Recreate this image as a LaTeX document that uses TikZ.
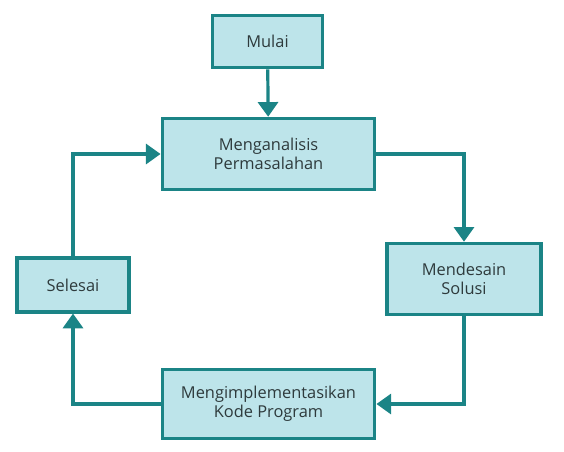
\documentclass[tikz,border=0pt]{standalone}
\usepackage{fontspec}
\setmainfont{Open Sans}
\usepackage{xcolor}
\usetikzlibrary{arrows.meta}

\definecolor{tealline}{HTML}{1B8486}
\definecolor{boxfill}{HTML}{BDE4EA}
\definecolor{boxtext}{HTML}{2E3A3C}

\begin{document}
\begin{tikzpicture}[x=0.75pt, y=-0.75pt,
step box/.style={rectangle,draw=tealline,fill=boxfill,line width=2.4pt,inner sep=2pt,align=center,
  text=boxtext,font=\fontsize{12.3}{14.5}\selectfont},
paths/.style={draw=tealline,line width=2.4pt,-{Triangle[width=15pt,length=11pt]}}
]
\useasboundingbox (0,0) rectangle (564,451);

%create nodes
\node[step box, minimum width=83pt, minimum height=39.5pt] (mulai) at (267.5,41.5) {Mulai};
\node[step box, minimum width=159.5pt, minimum height=53.5pt] (analisis) at (268.5,154) {Menganalisis\\Permasalahan};
\node[step box, minimum width=115.5pt, minimum height=53.5pt] (desain) at (464,279) {Mendesain\\Solusi};
\node[step box, minimum width=159.5pt, minimum height=52pt] (implementasi) at (268.5,404) {Mengimplementasikan\\Kode Program};
\node[step box, minimum width=84pt, minimum height=40.5pt] (selesai) at (73,285) {Selesai};

%draw paths
\draw[paths] (mulai) -- (analisis);
\draw[paths] (analisis.east) -| (desain.north);
\draw[paths] (desain.south) |- (implementasi.east);
\draw[paths] (implementasi.west) -| (selesai.south);
\draw[paths] (selesai.north) |- (analisis.west);

\end{tikzpicture}
\end{document}
